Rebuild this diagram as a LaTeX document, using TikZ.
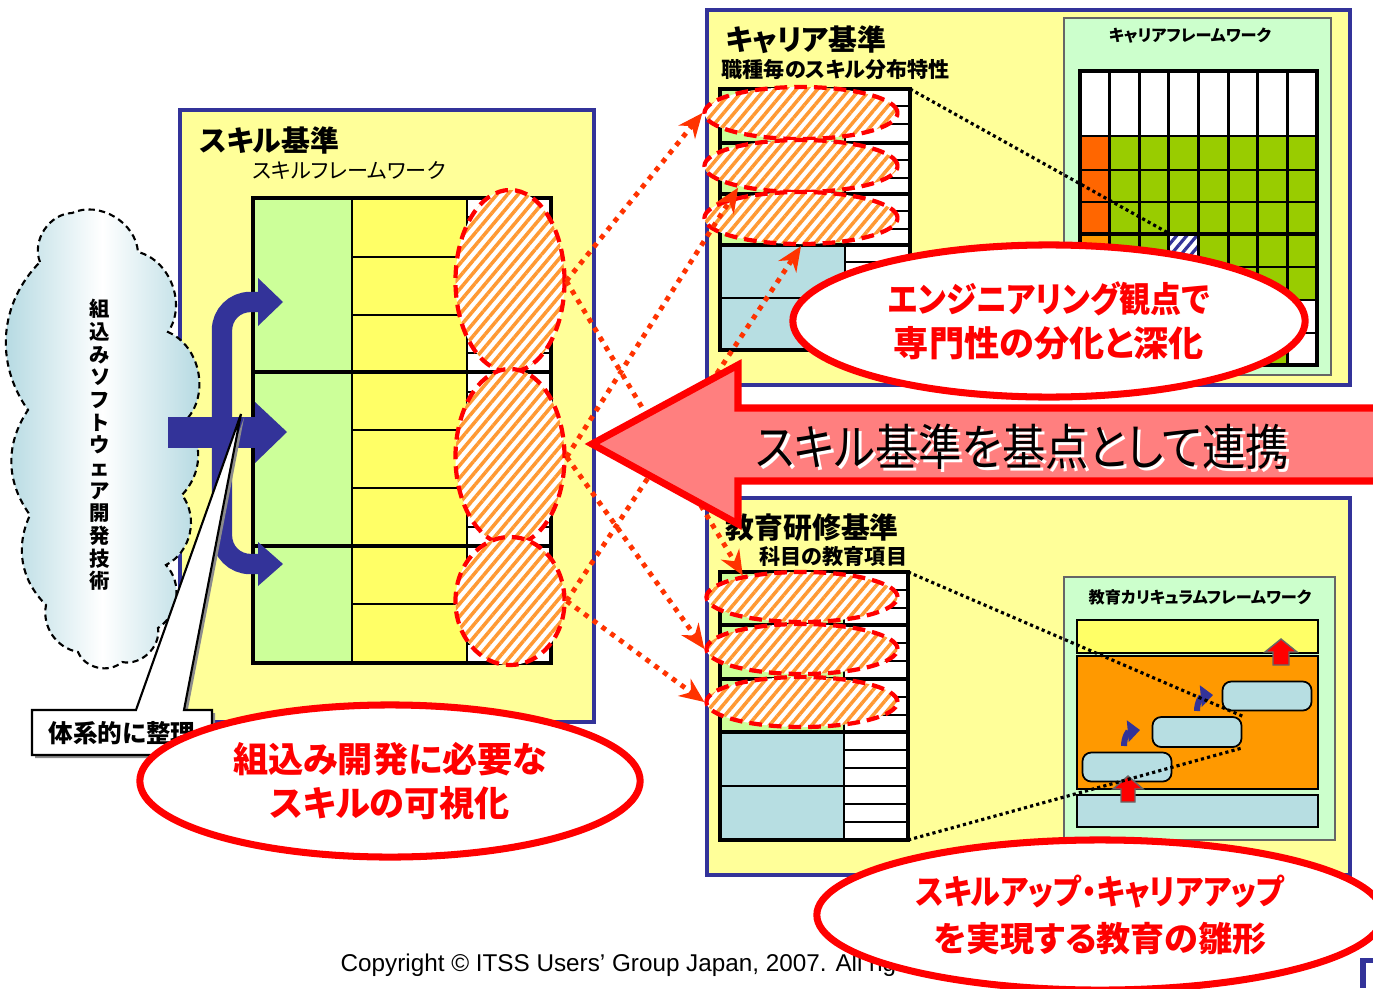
\documentclass[tikz,border=0pt]{standalone}
\usepackage{fontspec}
\setmainfont{Noto Sans CJK JP}[RawFeature=+palt]
\newfontfamily\narrowfont{Noto Sans CJK JP}[FakeStretch=0.88,RawFeature=+palt]
\newfontfamily\latinfont{Liberation Sans}
\usetikzlibrary{shapes.geometric,arrows.meta,patterns.meta,shadows}

\definecolor{boxyellow}{HTML}{FFFF99}
\definecolor{boxblue}{HTML}{333399}
\definecolor{cellgreen}{HTML}{CCFF99}
\definecolor{cellyellow}{HTML}{FFFF66}
\definecolor{cellblue}{HTML}{B7DEE2}
\definecolor{fwgreen}{HTML}{CCFFCC}
\definecolor{gridgreen}{HTML}{99CC00}
\definecolor{gridorange}{HTML}{FF6600}
\definecolor{lightorange}{HTML}{FF9900}
\definecolor{hatchorange}{HTML}{FF9933}
\definecolor{linkred}{HTML}{FF3300}
\definecolor{arrowpink}{HTML}{FF7F7F}
\definecolor{cloudblue}{HTML}{AED6DF}

\begin{document}
\begin{tikzpicture}[x=0.01cm,y=-0.01cm,
  stdbox/.style={fill=boxyellow,draw=boxblue,line width=1.2pt},
  frame/.style={line width=1.2pt},
  cell/.style={line width=0.8pt},
  hatch/.style={ellipse,inner sep=0pt,draw=red,line width=1.2pt,
    dash pattern=on 3.6pt off 2pt,preaction={fill=white},
    pattern={Lines[angle=50,distance=2.3pt,line width=1pt]},pattern color=hatchorange},
  oval/.style={ellipse,draw=red,line width=2pt,fill=white,inner sep=0pt,
    text=red,align=center,font=\bfseries\fontsize{10}{12.4}\selectfont},
  link/.style={linkred,line width=1.4pt,dash pattern=on 1.4pt off 1.7pt,
    -{Stealth[length=7pt,width=6pt]}},
  title/.style={anchor=west,inner sep=0pt,font=\bfseries\fontsize{8.2}{9}\selectfont},
  subtitle/.style={anchor=west,inner sep=0pt,font=\bfseries\fontsize{6}{7}\selectfont},
  fwbox/.style={fill=fwgreen,draw=black!60,line width=0.5pt},
  fwtitle/.style={font=\bfseries\fontsize{4.6}{5}\selectfont},
  zoomline/.style={line width=0.9pt,dash pattern=on 0.9pt off 0.9pt},
  upblock/.style={fill=red,draw=black!60,line width=0.4pt}]

\useasboundingbox (0,0) rectangle (1373,988);

%% skill standard
\draw[stdbox] (180,110) rectangle (594,722);
\node[title] (sktitle) at (199,140) {スキル基準};
\node[subtitle,font=\fontsize{6}{7}\selectfont] (sksub) at (252,170) {スキルフレームワーク};

% cloud
\draw[line width=0.6pt,dash pattern=on 1.8pt off 1.2pt,
  left color=cloudblue,right color=cloudblue,middle color=white]
  (40,262) to[bend left=55] (72,213) to[bend left=55] (138,252)
  to[bend left=55] (168,332) to[bend left=55] (186,420) to[bend left=40] (182,495)
  to[bend left=50] (166,565) to[bend left=50] (158,628) to[bend left=55] (122,662)
  to[bend left=55] (78,652) to[bend left=45] (46,605) to[bend left=35] (30,515)
  to[bend left=35] (28,410) to[bend left=40] (40,262);
\node[font=\bfseries\fontsize{5.8}{6.45}\selectfont,align=center] (cloudtext) at (100,445)
  {組\\込\\み\\ソ\\フ\\ト\\ウ\\ェ\\ア\\開\\発\\技\\術};

% framework table
\fill[cellgreen] (253,198) rectangle (352,663);
\fill[cellyellow] (352,198) rectangle (467,663);
\fill[white] (467,198) rectangle (551,663);
\foreach \i in {1,...,23}
  \draw[line width=0.6pt] (467,198+\i*19.375) -- (551,198+\i*19.375);
\foreach \y in {257,315,430,488,604}
  \draw[cell] (352,\y) -- (467,\y);
\draw[cell] (352,198) -- (352,663);
\draw[cell] (467,198) -- (467,663);
\foreach \y in {372,546}
  \draw[frame] (253,\y) -- (551,\y);
\draw[frame] (253,198) rectangle (551,663);

\node[hatch,minimum width=1.09cm,minimum height=1.82cm] (sk1) at (510,281) {};
\node[hatch,minimum width=1.09cm,minimum height=1.76cm] (sk2) at (510,457) {};
\node[hatch,minimum width=1.09cm,minimum height=1.28cm] (sk3) at (510,601) {};

% input arrows
\draw[boxblue,line width=5.8pt,rounded corners=8pt] (262,302) -- (222,302) -- (222,564) -- (262,564);
\fill[boxblue] (258,278) -- (283,302) -- (258,326) -- cycle;
\fill[boxblue] (168,417) rectangle (257,448);
\fill[boxblue] (255,402) -- (287,432) -- (255,463) -- cycle;
\fill[boxblue] (258,542) -- (283,564) -- (258,586) -- cycle;

% callout
\draw[fill=white,line width=0.6pt,
  drop shadow={shadow xshift=0.9pt,shadow yshift=-0.9pt,fill=black!45,opacity=1}]
  (32,710) -- (136,710) -- (241,414) -- (184,710) -- (212,710) -- (212,755) -- (32,755) -- cycle;
\node[anchor=west,inner sep=0pt,font=\bfseries\fontsize{7}{8}\selectfont] (sorted) at (48,733) {体系的に整理};

%% career standard
\draw[stdbox] (707,10) rectangle (1350,385);
\node[title] (catitle) at (725,40) {キャリア基準};
\node[subtitle] (casub) at (721,70) {職種毎のスキル分布特性};

\fill[cellgreen] (720,89) rectangle (845,245);
\fill[cellblue] (720,245) rectangle (845,350);
\fill[white] (845,89) rectangle (910,350);
\foreach \s in {89,143,194,245,298}
  \foreach \k in {1,2}
    \draw[line width=0.6pt] (845,\s+\k*17.3) -- (910,\s+\k*17.3);
\draw[cell] (720,298) -- (910,298);
\draw[cell] (845,89) -- (845,350);
\foreach \y in {143,194,245}
  \draw[frame] (720,\y) -- (910,\y);
\draw[frame] (720,89) rectangle (910,350);
\coordinate (catop) at (910,89);

\node[hatch,minimum width=1.93cm,minimum height=0.52cm] (ca1) at (801,113) {};
\node[hatch,minimum width=1.93cm,minimum height=0.52cm] (ca2) at (801,166) {};
\node[hatch,minimum width=1.93cm,minimum height=0.52cm] (ca3) at (801,218) {};

% career framework grid
\draw[fwbox] (1064,18) rectangle (1331,375);
\node[fwtitle] (cafw) at (1190,36) {キャリアフレームワーク};
\fill[white] (1080,71) rectangle (1317,365);
\fill[gridgreen] (1080,136) rectangle (1317,300);
\fill[gridgreen] (1080,300) rectangle (1288,365);
\fill[gridorange] (1080,136) rectangle (1110,234);
\fill[lightorange] (1080,234) rectangle (1110,267);
\fill[white] (1170,234) rectangle (1199,267);
\fill[pattern={Lines[angle=50,distance=2.2pt,line width=0.9pt]},pattern color=boxblue]
  (1170,234) rectangle (1199,267);
\coordinate (hcell) at (1170,234);
\foreach \i in {1,...,7}
  \draw[cell] (1080+\i*29.625,71) -- (1080+\i*29.625,365);
\foreach \y in {136,170,202,267,300,333}
  \draw[cell] (1080,\y) -- (1317,\y);
\draw[frame] (1080,234) -- (1317,234);
\draw[frame] (1080,71) rectangle (1317,365);
\draw[zoomline] (catop) -- (hcell);

%% education standard
\draw[stdbox] (707,498) rectangle (1350,875);
\node[title] (edtitle) at (725,528) {教育研修基準};
\node[subtitle] (edsub) at (759,557) {科目の教育項目};

\fill[cellgreen] (720,572) rectangle (844,732);
\fill[cellblue] (720,732) rectangle (844,840);
\fill[white] (844,572) rectangle (908,840);
\foreach \s in {572,625,679,732,786}
  \foreach \k in {1,2}
    \draw[line width=0.6pt] (844,\s+\k*17.9) -- (908,\s+\k*17.9);
\draw[cell] (720,786) -- (908,786);
\draw[cell] (844,572) -- (844,840);
\foreach \y in {625,679,732}
  \draw[frame] (720,\y) -- (908,\y);
\draw[frame] (720,572) rectangle (908,840);
\coordinate (edtop) at (908,572);
\coordinate (edbot) at (908,840);

\node[hatch,minimum width=1.91cm,minimum height=0.50cm] (ed1) at (802,597) {};
\node[hatch,minimum width=1.91cm,minimum height=0.50cm] (ed2) at (802,649) {};
\node[hatch,minimum width=1.91cm,minimum height=0.50cm] (ed3) at (802,702) {};

% curriculum framework
\draw[fwbox] (1064,577) rectangle (1335,840);
\node[fwtitle] (edfw) at (1200,597) {教育カリキュラムフレームワーク};
\draw[fill=cellyellow,line width=0.5pt] (1077,620) rectangle (1318,653);
\draw[fill=lightorange,line width=0.5pt] (1077,656) rectangle (1318,789);
\draw[fill=cellblue,line width=0.5pt] (1077,795) rectangle (1318,827);
\node[draw,fill=cellblue,rounded corners=2.5pt,line width=0.5pt,
  minimum width=0.89cm,minimum height=0.29cm] (lv1) at (1127,767) {};
\node[draw,fill=cellblue,rounded corners=2.5pt,line width=0.5pt,
  minimum width=0.89cm,minimum height=0.30cm] (lv2) at (1197,732) {};
\node[draw,fill=cellblue,rounded corners=2.5pt,line width=0.5pt,
  minimum width=0.89cm,minimum height=0.29cm] (lv3) at (1267,696) {};
\draw[boxblue,line width=1.7pt,-{Triangle[length=3.5pt,width=6pt]}]
  (1124,746) .. controls (1124,736) and (1129,731) .. (1140,730);
\draw[boxblue,line width=1.7pt,-{Triangle[length=3.5pt,width=6pt]}]
  (1197,711) .. controls (1197,701) and (1202,696) .. (1213,695);
\filldraw[upblock] (1281,639) -- (1297,652) -- (1289,652) -- (1289,665)
  -- (1273,665) -- (1273,652) -- (1265,652) -- cycle;
\filldraw[upblock] (1128,776) -- (1143,789) -- (1135,789) -- (1135,802)
  -- (1121,802) -- (1121,789) -- (1113,789) -- cycle;
\draw[zoomline] (edtop) -- (lv2.north east);
\draw[zoomline] (edbot) -- (lv2.south east);

%% links between the standards
\draw[link] (sk1.east) -- (ca1.west);
\draw[link] (sk1.east) -- (ed1.160);
\draw[link] (sk2.east) -- (ca2.199);
\draw[link] (sk2.east) -- (ed2.west);
\draw[link] (sk3.east) -- (ca3.south);
\draw[link] (sk3.east) -- (ed3.west);

% big arrow
\draw[fill=arrowpink,draw=red,line width=2pt,line join=miter]
  (592,444) -- (738,365) -- (738,408) -- (1400,408) -- (1400,481)
  -- (738,481) -- (738,524) -- cycle;
\node[font=\narrowfont\fontsize{14}{15}\selectfont,text=white] (linkshade) at (1025,450)
  {スキル基準を基点として連携};
\node[font=\narrowfont\fontsize{14}{15}\selectfont] (linktext) at (1022,447)
  {スキル基準を基点として連携};

% copyright line
\node[anchor=west,inner sep=0pt,font=\latinfont\fontsize{6.9}{8}\selectfont] (copy) at (340,965)
  {Copyright © ITSS Users’ Group Japan, 2007. All rights reserved.};
\fill[boxblue] (1360,958) rectangle (1373,963);
\fill[boxblue] (1360,958) rectangle (1366,988);

% messages
\node[oval,minimum width=5.0cm,minimum height=1.52cm] (skoval) at (390,781)
  {組込み開発に必要な\\スキルの可視化};
\node[oval,minimum width=5.12cm,minimum height=1.52cm] (caoval) at (1049,321)
  {{\narrowfont エンジニアリング観点で}\\専門性の分化と深化};
\node[oval,minimum width=5.66cm,minimum height=1.5cm,
  font=\bfseries\fontsize{9.7}{13.2}\selectfont] (edoval) at (1100,915)
  {{\narrowfont スキルアップ・キャリアアップ}\\を実現する教育の雛形};

\end{tikzpicture}
\end{document}
